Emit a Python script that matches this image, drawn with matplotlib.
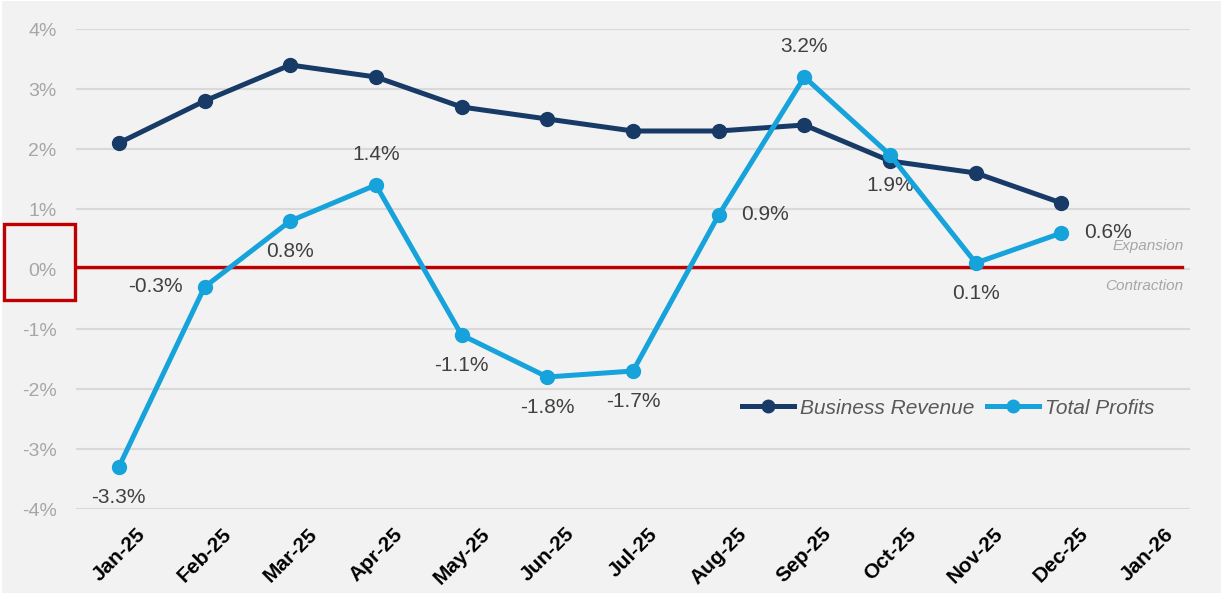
import matplotlib.pyplot as plt
from matplotlib.lines import Line2D
from matplotlib.patches import Rectangle

# Chart data
months = ['Jan-25', 'Feb-25', 'Mar-25', 'Apr-25', 'May-25', 'Jun-25', 'Jul-25',
          'Aug-25', 'Sep-25', 'Oct-25', 'Nov-25', 'Dec-25', 'Jan-26']
revenue = [2.1, 2.8, 3.4, 3.2, 2.7, 2.5, 2.3, 2.3, 2.4, 1.8, 1.6, 1.1]
profits = [-3.3, -0.3, 0.8, 1.4, -1.1, -1.8, -1.7, 0.9, 3.2, 1.9, 0.1, 0.6]
profit_label_pos = ['below', 'left', 'below', 'above', 'below', 'below', 'below',
                    'right', 'above', 'below', 'below', 'right']
yticks = [-4, -3, -2, -1, 0, 1, 2, 3, 4]

navy = '#173B66'
cyan = '#16A2DA'
bg = '#F2F2F2'

plt.rcParams['font.family'] = ['Liberation Sans', 'DejaVu Sans']

W, H = 1229, 606
fig = plt.figure(figsize=(W / 100, H / 100), dpi=100, facecolor='white')
fig.patches.append(Rectangle((2 / W, 1 - 593 / H), 1219 / W, 592 / H,
                             transform=fig.transFigure, facecolor=bg,
                             edgecolor='none', zorder=-10))

ax = fig.add_axes([76 / W, 1 - 509 / H, 1114 / W, 480 / H])
ax.set_facecolor(bg)

x_all = list(range(len(months)))
x_data = x_all[:len(revenue)]

ax.set_yticks(yticks)
ax.set_ylim(-4, 4)
ax.set_xlim(-0.5, len(months) - 0.5)
ax.set_axisbelow(True)
ax.grid(axis='y', color='#D9D9D9', linewidth=1.5)
ax.axhline(0.03, xmax=0.993, color='#C00000', linewidth=2.4, zorder=2)

ax.plot(x_data, revenue, color=navy, linewidth=3.6, marker='o', markersize=10,
        zorder=3, label='Business Revenue')
ax.plot(x_data, profits, color=cyan, linewidth=3.6, marker='o', markersize=10,
        zorder=4, label='Total Profits')

for xi, v, pos in zip(x_data, profits, profit_label_pos):
    txt = f'{v:.1f}%'
    if pos == 'above':
        ax.annotate(txt, (xi, v), xytext=(0, 22), textcoords='offset points',
                    ha='center', va='center', fontsize=15, color='#404040')
    elif pos == 'below':
        ax.annotate(txt, (xi, v), xytext=(0, -22), textcoords='offset points',
                    ha='center', va='center', fontsize=15, color='#404040')
    elif pos == 'left':
        ax.annotate(txt, (xi, v), xytext=(-16, 0), textcoords='offset points',
                    ha='right', va='center', fontsize=15, color='#404040')
    else:
        ax.annotate(txt, (xi, v), xytext=(16, 0), textcoords='offset points',
                    ha='left', va='center', fontsize=15, color='#404040')

ax.text(0.994, 0.38, 'Expansion', transform=ax.get_yaxis_transform(),
        ha='right', va='center', fontsize=11, style='italic', color='#A6A6A6')
ax.text(0.994, -0.28, 'Contraction', transform=ax.get_yaxis_transform(),
        ha='right', va='center', fontsize=11, style='italic', color='#A6A6A6')

ax.set_xticks(x_all)
ax.set_xticklabels(months, rotation=45, ha='center', fontsize=15,
                   fontweight='bold', color='black')
ax.set_yticklabels([f'{t}%' for t in yticks], fontsize=14, color='#A6A6A6')
ax.tick_params(axis='x', length=0, pad=11)
ax.tick_params(axis='y', length=0, pad=14)
for s in ax.spines.values():
    s.set_visible(False)

handles = [Line2D([], [], color=navy, linewidth=3.6, marker='o', markersize=9),
           Line2D([], [], color=cyan, linewidth=3.6, marker='o', markersize=9)]
leg = ax.legend(handles, ['Business Revenue', 'Total Profits'], ncol=2,
                loc='center', bbox_to_anchor=(0.783, 0.21), frameon=False,
                handlelength=2.5, columnspacing=0.6, handletextpad=0.3,
                prop={'size': 15, 'style': 'italic'})
for t in leg.get_texts():
    t.set_color('#595959')

# red box around the 0% label
fig.patches.append(Rectangle((4 / W, 1 - 300 / H), 71 / W, 76 / H,
                             transform=fig.transFigure, facecolor='none',
                             edgecolor='#C00000', linewidth=2.4, zorder=5))

fig.savefig('out.png', dpi=100, facecolor='white')
